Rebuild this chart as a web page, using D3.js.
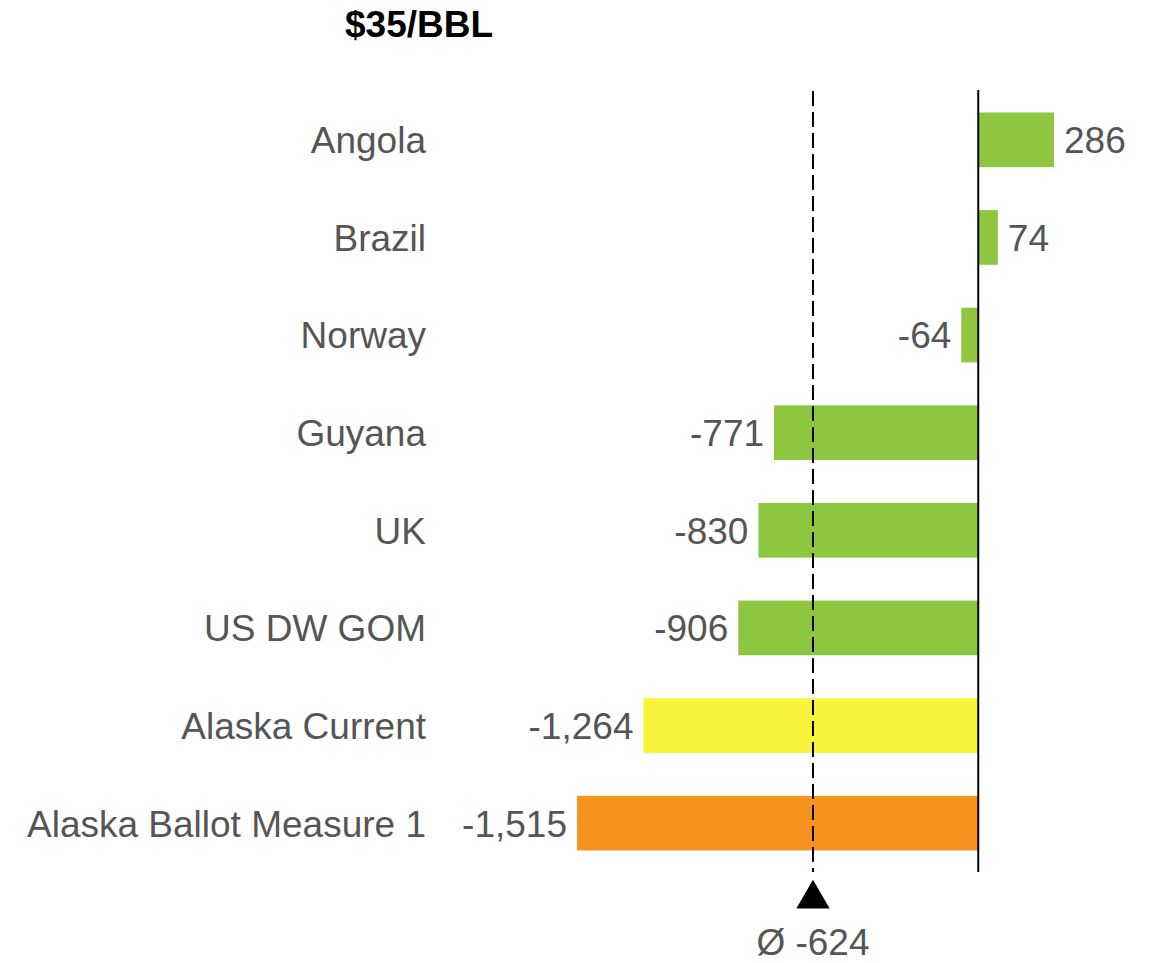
<!DOCTYPE html>
<html>
<head>
<meta charset="utf-8">
<script src="https://cdn.jsdelivr.net/npm/d3@7"></script>
<style>
  body { margin: 0; background: #fff; }
  text { font-family: "Liberation Sans", Arial, sans-serif; }
</style>
</head>
<body>
<svg id="chart" width="1153" height="963"></svg>
<script>
// data
let title = "$35/BBL";
let countries = ["Angola", "Brazil", "Norway", "Guyana", "UK", "US DW GOM", "Alaska Current", "Alaska Ballot Measure 1"];
let values = [286, 74, -64, -771, -830, -906, -1264, -1515];
let groups = ["base", "base", "base", "base", "base", "base", "current", "ballot"];
let average = -624;

let colorOf = { base: "#8DC63F", current: "#F7F43A", ballot: "#F7941D" };
let textColor = "#555555";

let svg = d3.select("#chart");
let g = svg.append("g");

let x = d3.scaleLinear()
    .domain([d3.min(values), d3.max(values)])
    .range([577, 1054]);

let y = d3.scaleBand()
    .domain(countries)
    .range([91, 872])
    .paddingInner(0.44)
    .paddingOuter(0.22);

// plain hyphen instead of the unicode minus
let fmt = v => d3.format(",")(v).replace("\u2212", "-");

// title
g.append("text")
    .attr("x", 345)
    .attr("y", 37)
    .style("font-size", "37px")
    .style("font-weight", "bold")
    .style("fill", "#000")
    .text(title);

// bars
g.selectAll("rect.bar")
    .data(countries)
    .enter().append("rect")
    .attr("class", "bar")
    .attr("x", (d, i) => x(Math.min(0, values[i])))
    .attr("y", d => y(d))
    .attr("width", (d, i) => Math.abs(x(values[i]) - x(0)))
    .attr("height", y.bandwidth())
    .style("fill", (d, i) => colorOf[groups[i]]);

// category labels
g.selectAll("text.cat")
    .data(countries)
    .enter().append("text")
    .attr("class", "cat")
    .attr("x", 426)
    .attr("y", d => y(d) + y.bandwidth() / 2)
    .attr("dy", "0.36em")
    .attr("text-anchor", "end")
    .style("font-size", "37px")
    .style("fill", textColor)
    .text(d => d);

// value labels
g.selectAll("text.val")
    .data(countries)
    .enter().append("text")
    .attr("class", "val")
    .attr("x", (d, i) => values[i] >= 0 ? x(values[i]) + 10 : x(values[i]) - 10)
    .attr("y", d => y(d) + y.bandwidth() / 2)
    .attr("dy", "0.36em")
    .attr("text-anchor", (d, i) => values[i] >= 0 ? "start" : "end")
    .style("font-size", "37px")
    .style("fill", textColor)
    .text((d, i) => fmt(values[i]));

// zero line
g.append("line")
    .attr("x1", x(0)).attr("x2", x(0))
    .attr("y1", 90).attr("y2", 872)
    .style("stroke", "#000")
    .style("stroke-width", 2);

// average line
let ax = x(average);
g.append("line")
    .attr("x1", ax).attr("x2", ax)
    .attr("y1", 91).attr("y2", 872)
    .style("stroke", "#000")
    .style("stroke-width", 2)
    .style("stroke-dasharray", "15,6");

g.append("path")
    .attr("d", d3.symbol().type(d3.symbolTriangle).size(480)())
    .attr("transform", "translate(" + ax + ",899)")
    .style("fill", "#000");

g.append("text")
    .attr("x", ax)
    .attr("y", 955)
    .attr("text-anchor", "middle")
    .style("font-size", "37px")
    .style("fill", textColor)
    .text("Ø " + fmt(average));
</script>
</body>
</html>
